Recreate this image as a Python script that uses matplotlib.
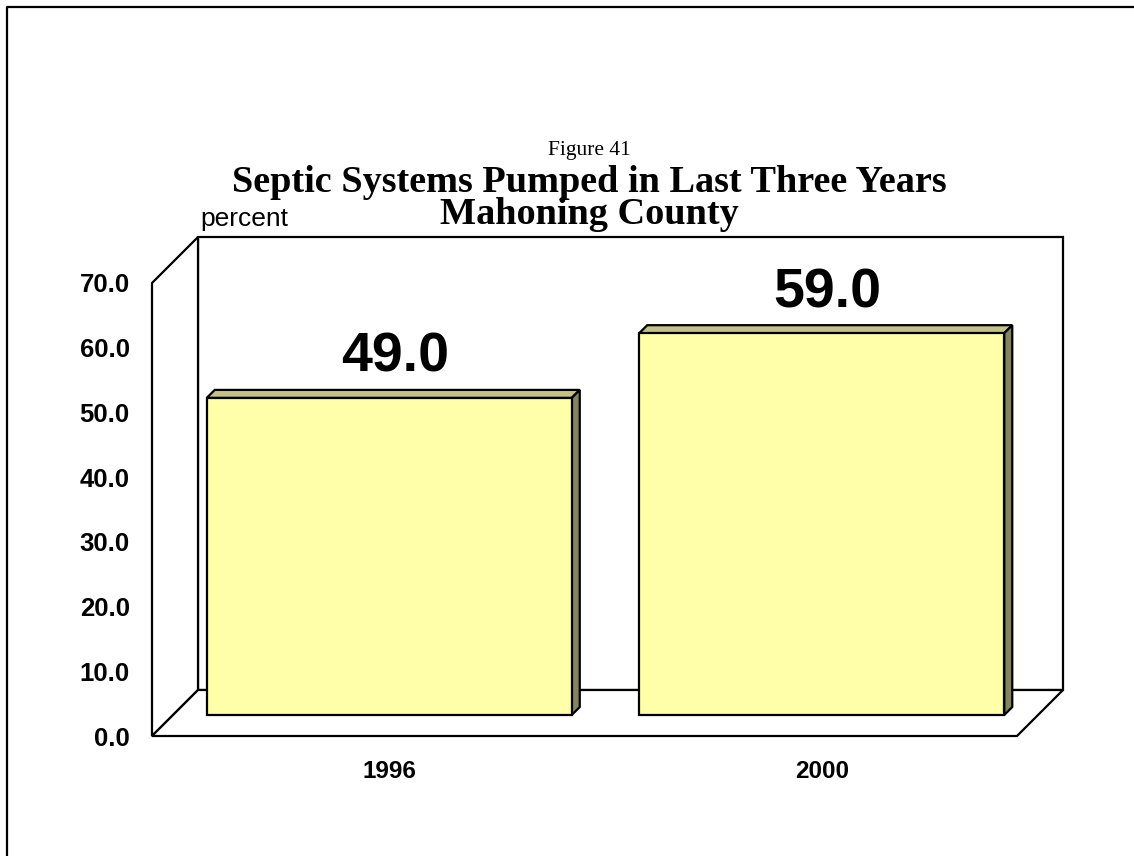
import matplotlib
matplotlib.use("Agg")
import matplotlib.pyplot as plt
from matplotlib.patches import Polygon
from matplotlib.lines import Line2D

years = ["1996", "2000"]
percent = [49.0, 59.0]
yticks = [0, 10, 20, 30, 40, 50, 60, 70]

W, H = 1134, 856
fig = plt.figure(figsize=(W / 100, H / 100), dpi=100)
fig.patch.set_facecolor("white")

# front plane of the 3d box, in pixels
left_px, right_px, bot_px, top_px = 152, 1017, 736, 283
ax = fig.add_axes([left_px / W, 1 - bot_px / H,
                   (right_px - left_px) / W, (bot_px - top_px) / H])
ax.set_xlim(-0.5, 1.5)
ax.set_ylim(0, 70)
for s in ax.spines.values():
    s.set_visible(False)
ax.patch.set_visible(False)

# pixel -> data unit conversions
ux = (right_px - left_px) / 2.0
uy = (bot_px - top_px) / 70.0
depth = 46  # wall depth, px
dX, dY = depth / ux, depth / uy

lw = 1.6
k = "black"
x0, x1 = -0.5, 1.5
# back wall, side wall, floor
walls = [
    [(x0 + dX, dY), (x1 + dX, dY), (x1 + dX, 70 + dY), (x0 + dX, 70 + dY)],
    [(x0, 0), (x0, 70), (x0 + dX, 70 + dY), (x0 + dX, dY)],
    [(x0, 0), (x1, 0), (x1 + dX, dY), (x0 + dX, dY)],
]
for w in walls:
    ax.add_patch(Polygon(w, closed=True, facecolor="white", edgecolor=k,
                         lw=lw, clip_on=False, zorder=1, joinstyle="miter"))

# bars, set in the middle of the depth
off = 21
ox, oy = off / ux, off / uy
bw = 0.844
bd = 8
bdx, bdy = bd / ux, bd / uy
xs = list(range(len(years)))
ax.bar([x + ox for x in xs], percent, width=bw, bottom=oy,
       color="#FFFFAA", edgecolor=k, lw=lw, zorder=3, clip_on=False)
for x, v in zip(xs, percent):
    l = x + ox - bw / 2
    r = x + ox + bw / 2
    t = v + oy
    top = [(l, t), (r, t), (r + bdx, t + bdy), (l + bdx, t + bdy)]
    side = [(r, oy), (r + bdx, oy + bdy), (r + bdx, t + bdy), (r, t)]
    ax.add_patch(Polygon(top, closed=True, facecolor="#C2C284", edgecolor=k,
                         lw=lw, clip_on=False, zorder=2, joinstyle="miter"))
    ax.add_patch(Polygon(side, closed=True, facecolor="#84845E", edgecolor=k,
                         lw=lw, clip_on=False, zorder=2, joinstyle="miter"))
    ax.text(x + ox + 6 / ux, t + 26 / uy, f"{v:.1f}", ha="center",
            va="baseline", fontsize=40, fontweight="bold",
            family="Liberation Sans", zorder=5)

# axis labels
ax.set_yticks(yticks)
ax.set_yticklabels([f"{t:.1f}" for t in yticks], fontsize=18.5,
                   fontweight="bold", family="Liberation Sans")
ax.tick_params(axis="y", length=0, pad=16)
ax.set_xticks([])
for x, lab in zip(xs, years):
    ax.text(x + ox, -35 / uy, lab, ha="center", va="center", fontsize=17.5,
            fontweight="bold", family="Liberation Sans")

# titles
cx = 589 / W
fig.text(cx, 1 - 151 / H, "Figure 41", ha="center", va="center",
         fontsize=15.5, family="Liberation Serif")
fig.text(cx, 1 - 183 / H, "Septic Systems Pumped in Last Three Years",
         ha="center", va="center", fontsize=27.5, fontweight="bold",
         family="Liberation Serif")
fig.text(cx, 1 - 215 / H, "Mahoning County", ha="center", va="center",
         fontsize=27.5, fontweight="bold", family="Liberation Serif")
fig.text(200 / W, 1 - 219 / H, "percent", ha="left", va="center",
         fontsize=19, family="Liberation Sans")

# outer frame, open at right and bottom
fig.add_artist(Line2D([7 / W, 7 / W, 1.01], [-0.01, 1 - 7 / H, 1 - 7 / H],
                      transform=fig.transFigure, color=k, lw=1.6))

fig.savefig("out.png", dpi=100)
